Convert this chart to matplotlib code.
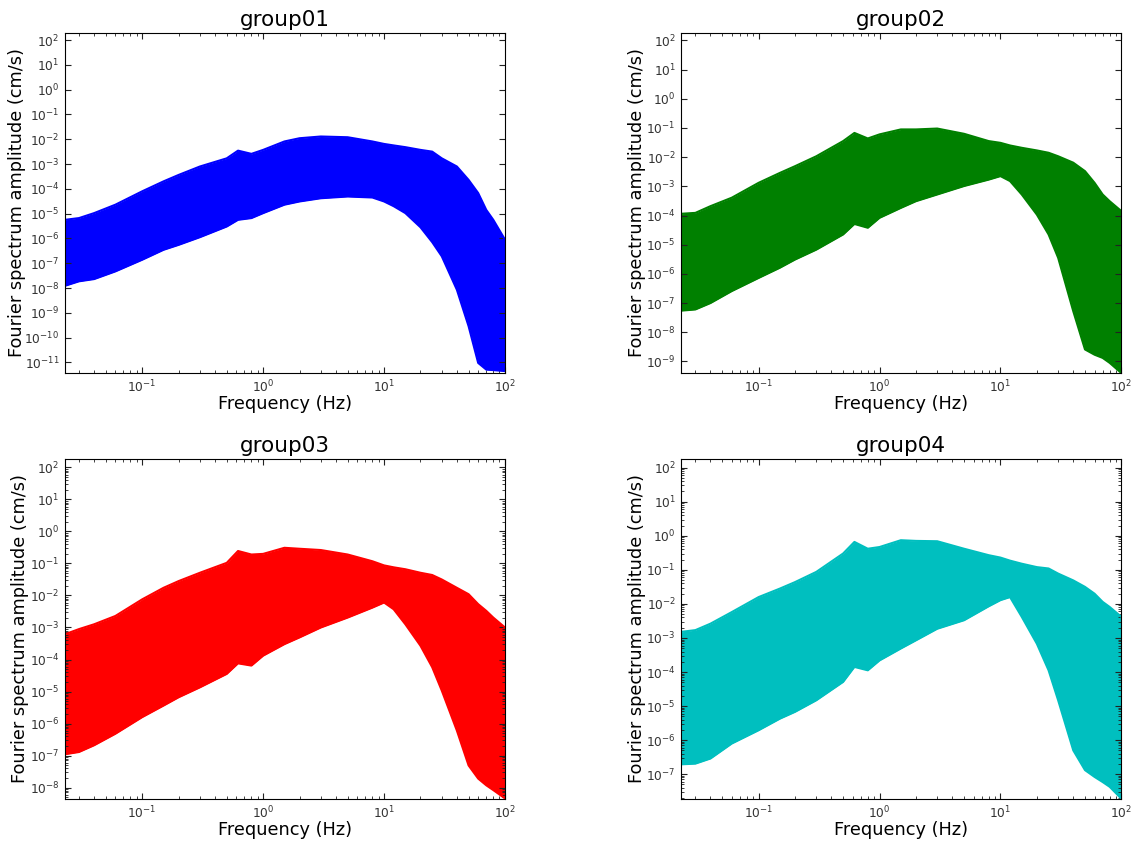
import numpy as np
import matplotlib
matplotlib.use('Agg')
import matplotlib.pyplot as plt
from matplotlib.ticker import FixedLocator, NullFormatter

plt.rcParams['axes.unicode_minus'] = False

# frequency samples (Hz) shared by every group
freq = [0.023, 0.03, 0.04, 0.06, 0.1, 0.15, 0.2, 0.3, 0.5, 0.62, 0.8, 1.0,
        1.5, 2.0, 3.0, 5.0, 8.0, 10.0, 12.0, 15.0, 20.0, 25.0, 30.0, 40.0,
        50.0, 60.0, 70.0, 80.0, 100.0]

# log10 of the upper / lower edge of each group's bundle of spectra
g1_upper = [-5.25, -5.18, -4.98, -4.64, -4.10, -3.70, -3.44, -3.10, -2.77, -2.46,
            -2.59, -2.43, -2.09, -1.96, -1.89, -1.92, -2.09, -2.19, -2.25, -2.32,
            -2.43, -2.50, -2.77, -3.10, -3.64, -4.17, -4.85, -5.25, -6.05]
g1_lower = [-7.91, -7.73, -7.64, -7.33, -6.86, -6.46, -6.26, -5.95, -5.52, -5.25,
            -5.18, -4.98, -4.64, -4.51, -4.38, -4.31, -4.35, -4.51, -4.70, -4.98,
            -5.55, -6.15, -6.72, -8.07, -9.54, -11.02, -11.29, -11.31, -11.35]

g2_upper = [-3.94, -3.91, -3.68, -3.39, -2.88, -2.54, -2.31, -1.97, -1.45, -1.17,
            -1.36, -1.22, -1.05, -1.05, -1.02, -1.20, -1.45, -1.51, -1.60, -1.68,
            -1.77, -1.85, -1.97, -2.19, -2.48, -2.88, -3.28, -3.51, -3.85]
g2_lower = [-7.26, -7.22, -7.00, -6.59, -6.14, -5.79, -5.51, -5.17, -4.65, -4.29,
            -4.42, -4.08, -3.74, -3.51, -3.28, -2.99, -2.77, -2.65, -2.82, -3.28,
            -3.97, -4.65, -5.45, -7.28, -8.59, -8.77, -8.88, -9.05, -9.40]

g3_upper = [-3.21, -3.05, -2.90, -2.64, -2.12, -1.76, -1.55, -1.29, -0.98, -0.61,
            -0.72, -0.70, -0.51, -0.54, -0.58, -0.72, -0.93, -1.06, -1.12, -1.18,
            -1.29, -1.36, -1.50, -1.76, -1.96, -2.27, -2.48, -2.69, -3.00]
g3_lower = [-6.96, -6.89, -6.68, -6.32, -5.80, -5.44, -5.18, -4.87, -4.45, -4.12,
            -4.19, -3.88, -3.52, -3.31, -3.00, -2.69, -2.38, -2.22, -2.43, -2.90,
            -3.57, -4.24, -4.97, -6.22, -7.31, -7.72, -7.93, -8.08, -8.34]

g4_upper = [-2.82, -2.77, -2.58, -2.24, -1.80, -1.55, -1.36, -1.06, -0.52, -0.18,
            -0.38, -0.33, -0.13, -0.15, -0.16, -0.38, -0.57, -0.64, -0.73, -0.82,
            -0.92, -0.96, -1.11, -1.31, -1.50, -1.70, -1.94, -2.09, -2.38]
g4_lower = [-6.71, -6.69, -6.54, -6.10, -5.71, -5.37, -5.17, -4.83, -4.29, -3.85,
            -3.95, -3.66, -3.31, -3.07, -2.73, -2.48, -2.07, -1.89, -1.80, -2.38,
            -3.17, -3.95, -4.83, -6.30, -6.88, -7.08, -7.23, -7.37, -7.72]

titles = ['group01', 'group02', 'group03', 'group04']
colors = ['#0000ff', '#008000', '#ff0000', '#00bfbf']
uppers = [g1_upper, g2_upper, g3_upper, g4_upper]
lowers = [g1_lower, g2_lower, g3_lower, g4_lower]
# y range in decades, and whether minor ticks are shown
ylog_range = [(-11.43, 2.29), (-9.4, 2.26), (-8.36, 2.27), (-7.73, 2.26)]
y_minor = [False, False, True, True]
ylabel_x = [-0.089, -0.081, -0.081, -0.081]
xlog_range = (np.log10(0.023), 2.0)


def log_ticks(lo, hi, minor=False):
    # decade ticks (or 2..9 subdivisions) that fall inside [10**lo, 10**hi]
    subs = range(2, 10) if minor else [1]
    vals = [s * 10.0 ** k for k in range(int(np.floor(lo)), int(np.ceil(hi)) + 1)
            for s in subs]
    return [v for v in vals if 10 ** lo <= v <= 10 ** hi]


fig, axes = plt.subplots(2, 2, figsize=(11.31, 8.42), dpi=100)
fig.subplots_adjust(left=0.0575, right=0.9915, bottom=0.051, top=0.961,
                    wspace=0.401, hspace=0.252)

f = np.array(freq)
for i, ax in enumerate(axes.flat):
    c = colors[i]
    hi = 10 ** np.array(uppers[i])
    low = 10 ** np.array(lowers[i])
    ax.fill_between(f, low, hi, color=c, linewidth=0)
    ax.plot(f, hi, color=c, lw=1.5)
    ax.plot(f, low, color=c, lw=1.5)
    ax.set_xscale('log')
    ax.set_yscale('log')

    ylo, yhi = ylog_range[i]
    ax.set_xlim(10 ** xlog_range[0], 10 ** xlog_range[1])
    ax.set_ylim(10 ** ylo, 10 ** yhi)
    ax.xaxis.set_major_locator(FixedLocator(log_ticks(*xlog_range)))
    ax.xaxis.set_minor_locator(FixedLocator(log_ticks(*xlog_range, minor=True)))
    ax.yaxis.set_major_locator(FixedLocator(log_ticks(ylo, yhi)))
    ax.yaxis.set_minor_locator(FixedLocator(log_ticks(ylo, yhi, minor=True)
                                            if y_minor[i] else []))
    ax.xaxis.set_minor_formatter(NullFormatter())
    ax.yaxis.set_minor_formatter(NullFormatter())

    ax.set_title(titles[i], fontsize=15.5, pad=5)
    ax.set_xlabel('Frequency (Hz)', fontsize=12.8, labelpad=-0.5)
    ax.set_ylabel('Fourier spectrum amplitude (cm/s)', fontsize=12.8)
    ax.yaxis.set_label_coords(ylabel_x[i], 0.5)
    ax.tick_params(which='both', direction='in', top=True, right=True,
                   labelsize=8.8, pad=4, colors='#222222', labelcolor='#333333')
    ax.tick_params(which='major', length=4)
    ax.tick_params(which='minor', length=2)

plt.savefig('out.png')
